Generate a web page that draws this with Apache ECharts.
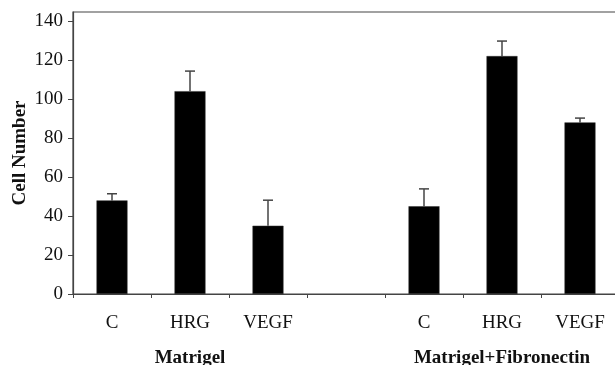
<!DOCTYPE html>
<html>
<head>
<meta charset="utf-8">
<script src="https://cdn.jsdelivr.net/npm/echarts@6/dist/echarts.min.js"></script>
<style>html,body{margin:0;padding:0;background:#fff;}#c{width:615px;height:365px;}</style>
</head>
<body>
<div id="c"></div>
<script>
var categories = ['C', 'HRG', 'VEGF', '', 'C', 'HRG', 'VEGF'];
var groupLabels = ['', 'Matrigel', '', '', '', 'Matrigel+Fibronectin', ''];
var means = [48, 104, 35, null, 45, 122, 88];
var errors = [3.4, 10.3, 13.1, null, 8.9, 7.7, 2.2];
var yTicks = [0, 20, 40, 60, 80, 100, 120, 140];

var font = 'Liberation Serif';
var chart = echarts.init(document.getElementById('c'), null, {renderer: 'canvas'});

var errData = [];
for (var i = 0; i < means.length; i++) {
  if (means[i] != null) errData.push([i, means[i], means[i] + errors[i]]);
}

chart.setOption({
  animation: false,
  grid: {left: 73, width: 546, top: 12, bottom: 71, show: true, borderColor: '#444', borderWidth: 1.2,
         containLabel: false, outerBoundsMode: 'none'},
  xAxis: [{
    type: 'category',
    data: categories,
    boundaryGap: true,
    axisLine: {lineStyle: {color: '#444', width: 1.2}},
    axisTick: {show: true, length: 4, lineStyle: {color: '#444'}},
    axisLabel: {interval: 0, margin: 20, fontFamily: font, fontSize: 19, color: '#111'},
    splitLine: {show: false}
  }, {
    type: 'category',
    data: groupLabels,
    position: 'bottom',
    boundaryGap: true,
    axisLine: {show: false},
    axisTick: {show: false},
    axisLabel: {interval: 0, margin: 55, fontFamily: font, fontSize: 19, fontWeight: 'bold', color: '#111'},
    splitLine: {show: false}
  }],
  yAxis: {
    type: 'value',
    min: 0,
    max: 144.6,
    name: 'Cell Number',
    nameLocation: 'middle',
    nameRotate: 90,
    nameGap: 43,
    nameMoveOverlap: false,
    nameTextStyle: {fontFamily: font, fontSize: 19, fontWeight: 'bold', color: '#111'},
    axisLine: {show: true, lineStyle: {color: '#444', width: 1.2}},
    axisTick: {show: true, length: 5, customValues: yTicks, lineStyle: {color: '#444'}},
    axisLabel: {customValues: yTicks, margin: 10, fontFamily: font, fontSize: 19, color: '#111'},
    splitLine: {show: false}
  },
  series: [{
    type: 'bar',
    data: means,
    barWidth: 31,
    itemStyle: {color: '#000', borderColor: '#333', borderWidth: 0.5}
  }, {
    type: 'custom',
    data: errData,
    z: 1,
    renderItem: function (params, api) {
      var x = api.value(0);
      var p0 = api.coord([x, api.value(1)]);
      var p1 = api.coord([x, api.value(2)]);
      var hw = 5;
      return {
        type: 'group',
        children: [{
          type: 'line',
          shape: {x1: p0[0], y1: p0[1], x2: p1[0], y2: p1[1]},
          style: {stroke: '#444', lineWidth: 1.5}
        }, {
          type: 'line',
          shape: {x1: p1[0] - hw, y1: p1[1], x2: p1[0] + hw, y2: p1[1]},
          style: {stroke: '#444', lineWidth: 1.5}
        }]
      };
    }
  }]
});
</script>
</body>
</html>
